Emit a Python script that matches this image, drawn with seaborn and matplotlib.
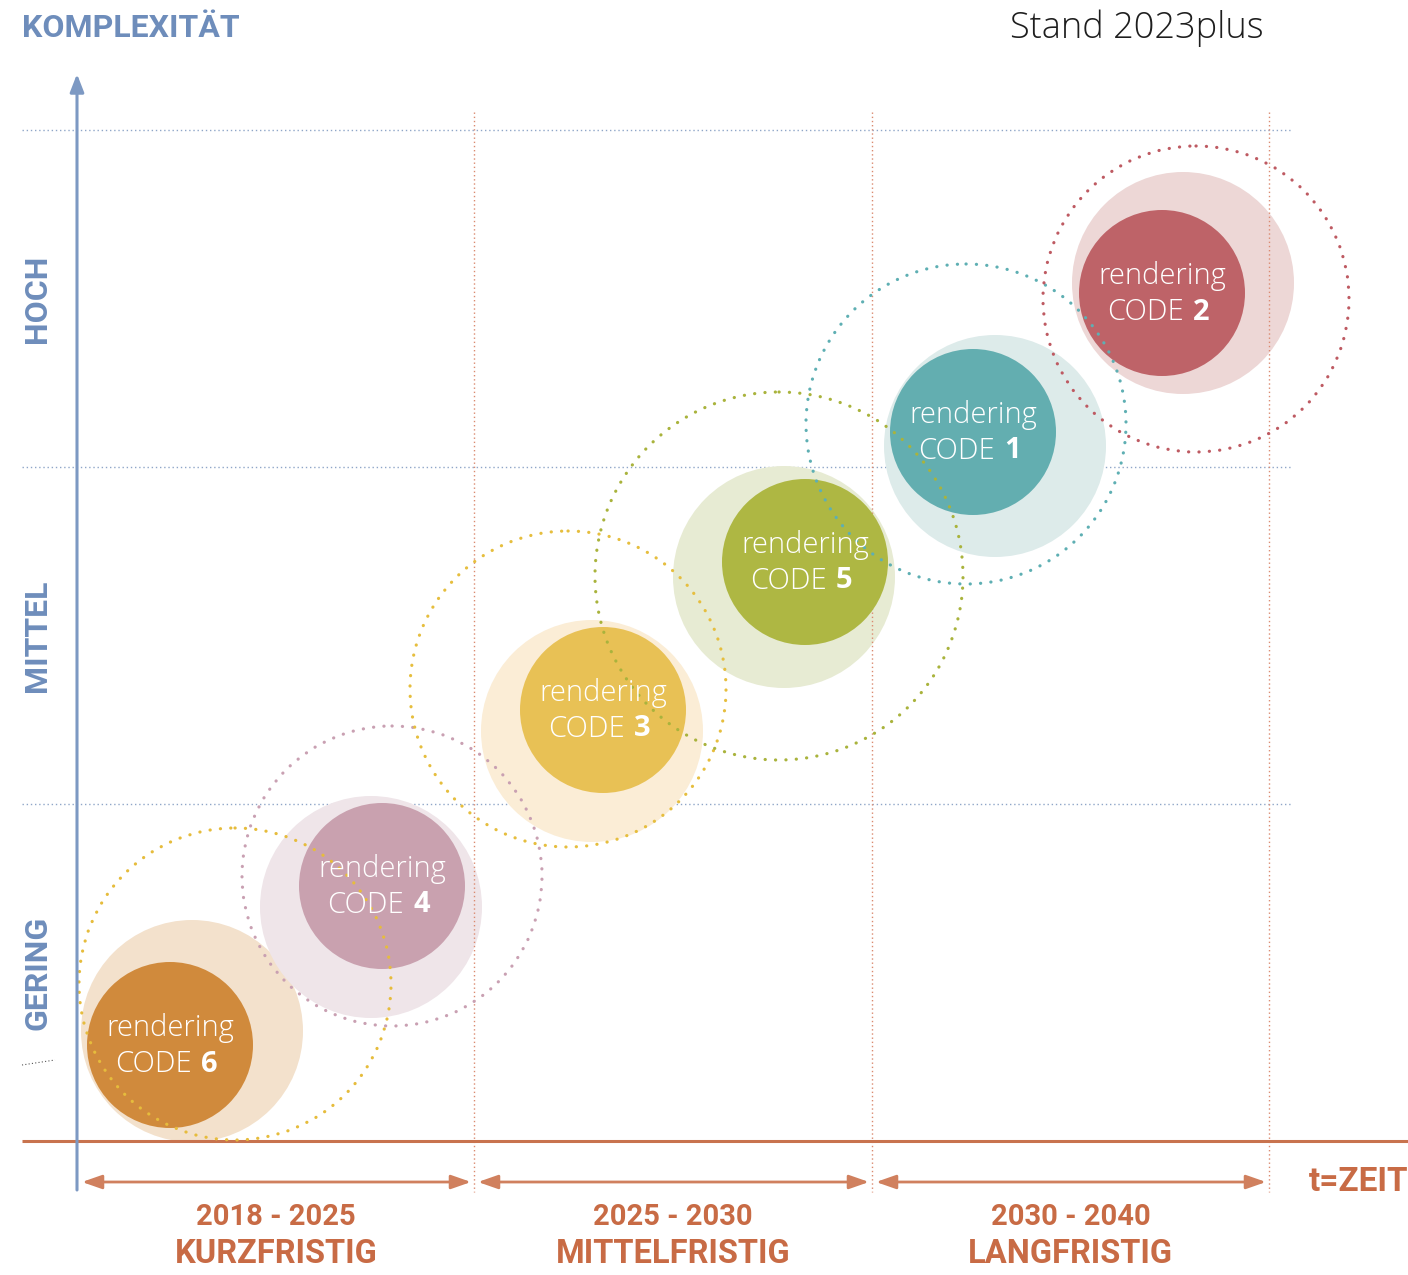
import matplotlib
matplotlib.use("Agg")
import matplotlib.pyplot as plt
from matplotlib.patches import Circle
import seaborn as sns
import numpy as np

# ---------------- data ----------------
codes = ["6", "4", "3", "5", "1", "2"]
inner_x = [170, 382, 603, 805, 973, 1162]
inner_y = [1045, 886, 710, 562, 432, 293]
halo_x = [192, 371, 592, 784, 995, 1183]
halo_y = [1031, 907, 731, 577, 446, 283]
ring_x = [235, 392, 568, 779, 966, 1196]
ring_y = [984, 876, 689, 576, 424, 299]
ring_r = [156, 150, 158, 184, 160, 153]
inner_r = 83
halo_r = 111

inner_colors = ["#D08A3C", "#C9A1AF", "#E8C155", "#AEB743", "#63AEB0", "#BE6368"]
halo_colors = ["#F3E1CC", "#EFE5E9", "#FBEDD6", "#E7EBD3", "#DDEBEA", "#EDD7D6"]
ring_colors = ["#E6BC3C", "#C9A0B2", "#E6BE3E", "#A9B33C", "#5EAFB3", "#BE5A62"]

period_bounds = [78, 474, 872, 1269]
period_labels = ["2018 - 2025", "2025 - 2030", "2030 - 2040"]
horizon_labels = ["KURZFRISTIG", "MITTELFRISTIG", "LANGFRISTIG"]
level_bounds = [1141, 804, 467, 130]
level_labels = ["GERING", "MITTEL", "HOCH"]

BLUE = "#6E8DBB"
AXBLUE = "#7D99C3"
RUST = "#C86B45"
BOLD_FONT = ["Roboto", "DejaVu Sans"]
LIGHT_FONT = ["Open Sans", "DejaVu Sans"]

sns.set_theme(style="white")
plt.rcParams["font.family"] = ["Open Sans", "DejaVu Sans"]

fig = plt.figure(figsize=(14.08, 12.75), dpi=100)
ax = fig.add_axes([0, 0, 1, 1])

PX2PT = 72.0 / 100.0


def size_pts2(r):
    return (2 * r * PX2PT) ** 2

# halos
sns.scatterplot(x=halo_x, y=halo_y, hue=codes, palette=dict(zip(codes, halo_colors)),
                s=size_pts2(halo_r), linewidth=0, legend=False, ax=ax, zorder=2)
# inner circles
sns.scatterplot(x=inner_x, y=inner_y, hue=codes, palette=dict(zip(codes, inner_colors)),
                s=size_pts2(inner_r), linewidth=0, legend=False, ax=ax, zorder=4)

# dotted rings
for x, y, r, c in zip(ring_x, ring_y, ring_r, ring_colors):
    circ = Circle((x, y), r, fill=False, edgecolor=c, linewidth=2.3,
                  linestyle=(0, (0.05, 3.2)), zorder=5)
    circ.set_capstyle("round")
    ax.add_patch(circ)

# horizontal grid lines (levels)
for yb in level_bounds[1:]:
    ax.plot([22, 1292], [yb, yb], color="#8FA6C8", linewidth=1.0,
            linestyle=(0, (1, 2)), zorder=1)

# vertical dotted period lines
for xb in period_bounds[1:]:
    ax.plot([xb, xb], [112, 1192], color="#DB8A70", linewidth=1.0,
            linestyle=(0, (1, 2)), zorder=3)

# baseline
ax.plot([22, 1408], [level_bounds[0], level_bounds[0]], color="#C8734E",
        linewidth=2.2, zorder=3, solid_capstyle="butt")

# y axis arrow
ax.annotate("", xy=(77, 74), xytext=(77, 1190),
            arrowprops=dict(arrowstyle="-|>,head_length=0.9,head_width=0.35",
                            color=AXBLUE, linewidth=2.2, shrinkA=0, shrinkB=0),
            zorder=6)

# period arrows + labels
for i in range(3):
    x0, x1 = period_bounds[i], period_bounds[i + 1]
    ax.annotate("", xy=(x1 - 3, 1182), xytext=(x0 + 4, 1182),
                arrowprops=dict(arrowstyle="<|-|>,head_length=1.0,head_width=0.35",
                                color="#D0805E", linewidth=2.0, shrinkA=0, shrinkB=0))
    xc = (x0 + x1) / 2
    ax.text(xc, 1217, period_labels[i], ha="center", va="center", color=RUST,
            fontsize=21, fontweight="bold", family=BOLD_FONT)
    ax.text(xc, 1254, horizon_labels[i], ha="center", va="center", color=RUST,
            fontsize=23.5, fontweight="bold", family=BOLD_FONT)

ax.text(1408, 1182, "t=ZEIT", ha="right", va="center", color=RUST,
        fontsize=24, fontweight="bold", family=BOLD_FONT)

# level labels
for i in range(3):
    yc = (level_bounds[i] + level_bounds[i + 1]) / 2
    ax.text(37, yc, level_labels[i], ha="center", va="center", rotation=90,
            color=BLUE, fontsize=23, fontweight="bold", family=BOLD_FONT)

ax.plot([22, 55], [1065, 1060], color="#555555", linewidth=0.8,
        linestyle=(0, (1, 2)), zorder=1)

# titles
ax.text(22, 28, "KOMPLEXITÄT", ha="left", va="center", color=BLUE,
        fontsize=23, fontweight="bold", family=BOLD_FONT)
ax.text(1264, 28, "Stand 2023plus", ha="right", va="center", color="#1E1E1E",
        fontsize=26, fontweight="light", family=LIGHT_FONT)

# circle texts
for x, y, c in zip(inner_x, inner_y, codes):
    ax.text(x, y - 17, "rendering", ha="center", va="center", color="white",
            fontsize=21, fontweight="light", family=LIGHT_FONT, zorder=7)
    ax.text(x + 22, y + 19, "CODE", ha="right", va="center", color="white",
            fontsize=21, fontweight="light", family=LIGHT_FONT, zorder=7)
    ax.text(x + 31, y + 19, c, ha="left", va="center", color="white",
            fontsize=21, fontweight="bold", family=LIGHT_FONT, zorder=7)

ax.set_xlim(0, 1408)
ax.set_ylim(1275, 0)
ax.axis("off")

fig.savefig("out.png", dpi=100, facecolor="white")
